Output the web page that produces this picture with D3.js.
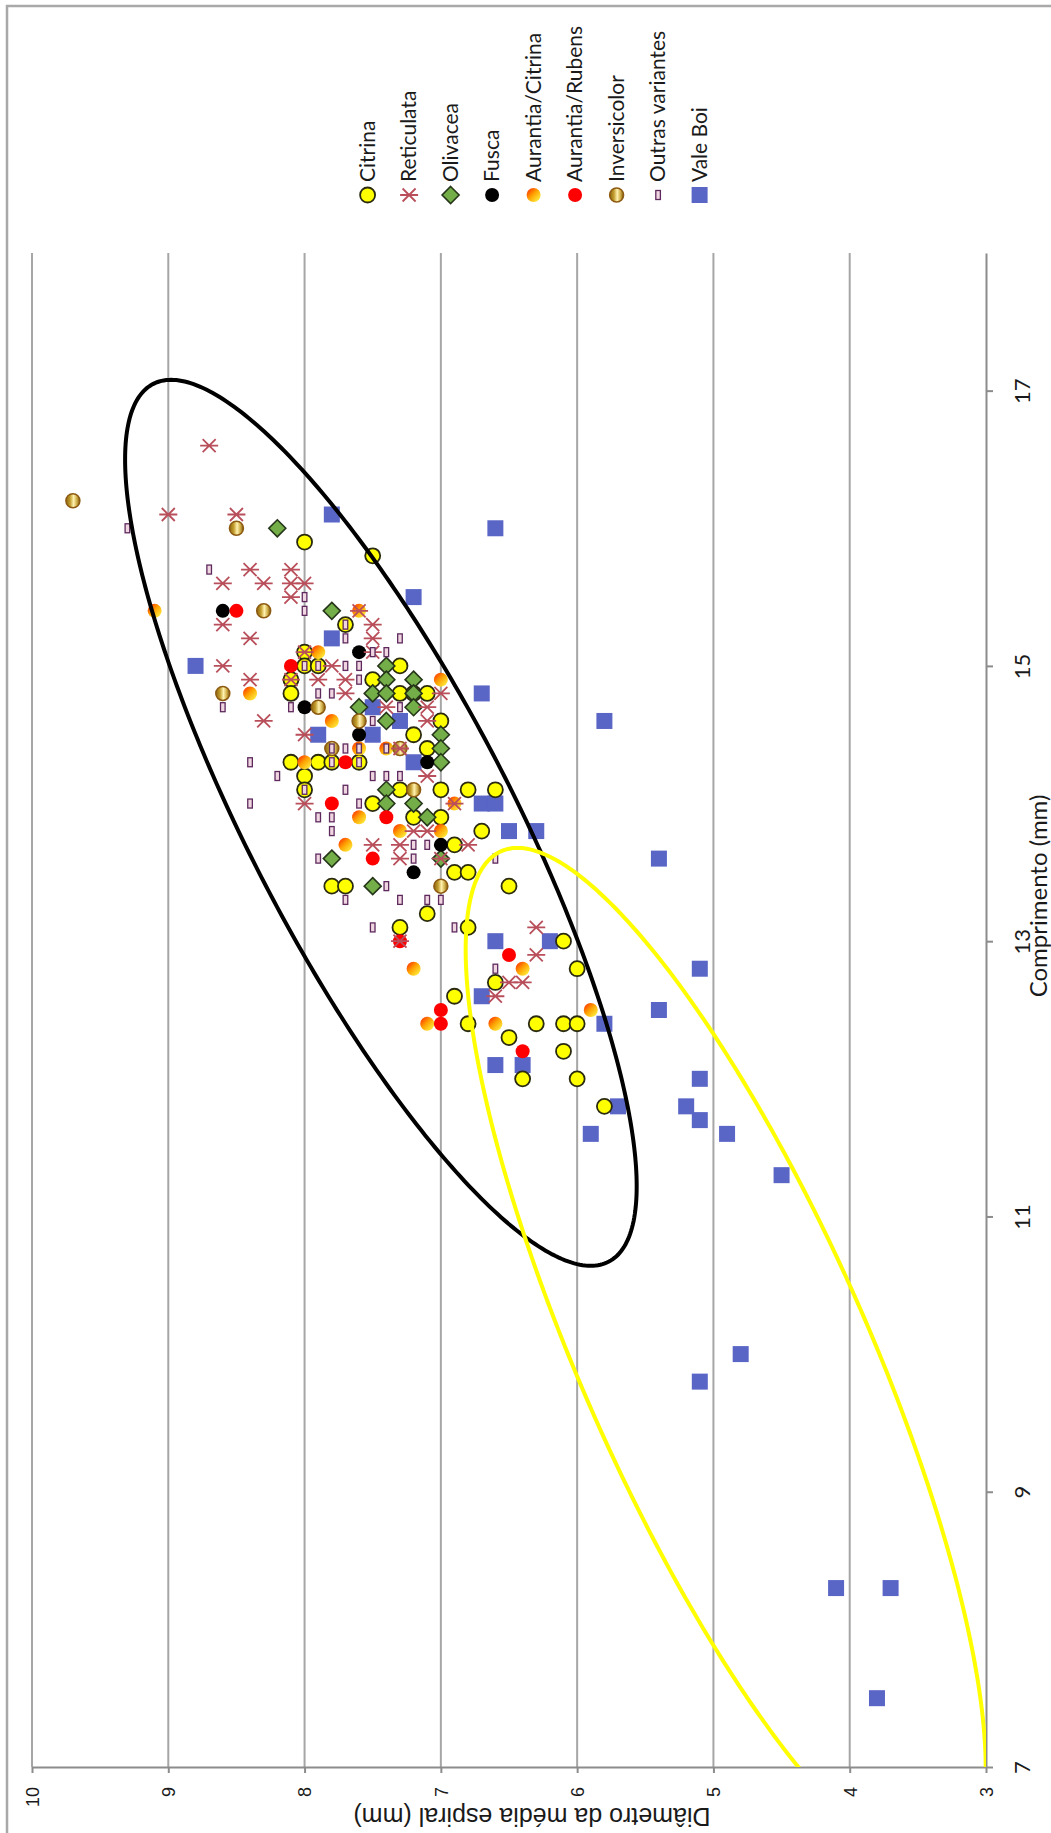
<!DOCTYPE html>
<html>
<head>
<meta charset="utf-8">
<script src="https://cdn.jsdelivr.net/npm/d3@7"></script>
<style>
  body { margin: 0; background: #fff; }
  svg { display: block; }
</style>
</head>
<body>
<svg id="chart" width="1051" height="1833"></svg>
<script>
// Axis ticks
const diamTicks = [10, 9, 8, 7, 6, 5, 4, 3];
const compTicks = [7, 9, 11, 13, 15, 17];

// Each point: [diâmetro da média espiral (mm), comprimento (mm)]
const citrina = [
  [8.0,15.9],[7.5,15.8],[7.7,15.3],[8.0,15.1],[8.0,15.0],[7.9,15.0],[7.3,15.0],
  [8.1,14.9],[7.5,14.9],[8.1,14.8],[7.3,14.8],[7.2,14.8],[7.1,14.8],[7.0,14.6],
  [7.2,14.5],[7.1,14.4],[8.1,14.3],[7.9,14.3],[7.8,14.3],[7.6,14.3],[8.0,14.2],
  [8.0,14.1],[7.3,14.1],[7.0,14.1],[6.8,14.1],[6.6,14.1],[7.5,14.0],[7.2,13.9],
  [7.0,13.9],[6.7,13.8],[6.9,13.7],[6.9,13.5],[6.8,13.5],[7.8,13.4],[7.7,13.4],
  [6.5,13.4],[7.1,13.2],[7.3,13.1],[6.8,13.1],[6.1,13.0],[6.0,12.8],[6.6,12.7],
  [6.9,12.6],[6.8,12.4],[6.3,12.4],[6.1,12.4],[6.0,12.4],[6.5,12.3],[6.1,12.2],
  [6.4,12.0],[6.0,12.0],[5.8,11.8]
];
const reticulata = [
  [8.7,16.6],[9.0,16.1],[8.5,16.1],[8.4,15.7],[8.1,15.7],[8.6,15.6],[8.3,15.6],
  [8.1,15.6],[8.0,15.6],[8.1,15.5],[7.6,15.4],[8.6,15.3],[7.5,15.3],[8.4,15.2],
  [7.5,15.2],[7.5,15.1],[8.0,15.1],[8.6,15.0],[7.8,15.0],[8.4,14.9],[8.1,14.9],
  [7.9,14.9],[7.7,14.9],[7.7,14.8],[7.0,14.8],[7.4,14.7],[7.1,14.7],[8.3,14.6],
  [7.1,14.6],[8.0,14.5],[7.3,14.4],[7.1,14.2],[8.0,14.0],[6.9,14.0],[7.2,13.8],
  [7.1,13.8],[7.5,13.7],[7.3,13.7],[6.8,13.7],[7.3,13.6],[7.0,13.6],[6.3,13.1],
  [7.3,13.0],[6.3,12.9],[6.5,12.7],[6.4,12.7],[6.6,12.6]
];
const olivacea = [
  [8.2,16.0],[7.8,15.4],[7.4,15.0],[7.4,14.9],[7.2,14.9],[7.5,14.8],[7.4,14.8],
  [7.2,14.8],[7.6,14.7],[7.2,14.7],[7.4,14.6],[7.0,14.5],[7.0,14.4],[7.0,14.3],
  [7.4,14.1],[7.4,14.0],[7.2,14.0],[7.1,13.9],[7.8,13.6],[7.0,13.6],[7.5,13.4]
];
const fusca = [
  [8.6,15.4],[7.6,15.1],[8.0,14.7],[7.6,14.5],[7.1,14.3],[7.0,13.7],[7.2,13.5]
];
const aurantiaCitrina = [
  [9.1,15.4],[7.6,15.4],[7.9,15.1],[7.0,14.9],[8.4,14.8],[7.8,14.6],[7.6,14.4],
  [7.4,14.4],[8.0,14.3],[6.9,14.0],[7.6,13.9],[7.3,13.8],[7.0,13.8],[7.7,13.7],
  [7.2,12.8],[6.4,12.8],[5.9,12.5],[7.1,12.4],[6.6,12.4]
];
const aurantiaRubens = [
  [8.5,15.4],[8.1,15.0],[7.7,14.3],[7.8,14.0],[7.4,13.9],[7.5,13.6],[7.3,13.0],
  [6.5,12.9],[7.0,12.5],[7.0,12.4],[6.4,12.2]
];
const inversicolor = [
  [9.7,16.2],[8.5,16.0],[8.3,15.4],[8.6,14.8],[7.9,14.7],[7.6,14.6],[7.8,14.4],
  [7.3,14.4],[7.2,14.1],[7.0,13.4]
];
const outrasVariantes = [
  [9.3,16.0],[8.7,15.7],[8.0,15.5],[8.0,15.4],[7.7,15.3],[7.7,15.2],[7.3,15.2],
  [7.5,15.1],[7.4,15.1],[8.0,15.0],[7.9,15.0],[7.7,15.0],[7.6,15.0],[7.6,14.9],
  [7.9,14.8],[7.8,14.8],[8.6,14.7],[8.1,14.7],[7.3,14.7],[7.5,14.6],[7.8,14.4],
  [7.7,14.4],[7.6,14.4],[7.4,14.4],[8.4,14.3],[7.8,14.3],[7.6,14.3],[8.2,14.2],
  [7.5,14.2],[7.4,14.2],[7.3,14.2],[8.0,14.1],[7.7,14.1],[8.4,14.0],[7.6,14.0],
  [7.9,13.9],[7.8,13.9],[7.8,13.8],[7.2,13.7],[7.1,13.7],[7.9,13.6],[7.2,13.6],
  [6.6,13.6],[7.4,13.4],[7.7,13.3],[7.3,13.3],[7.1,13.3],[7.0,13.3],[7.5,13.1],
  [6.9,13.1],[6.6,12.8]
];
const valeBoi = [
  [7.8,16.1],[6.6,16.0],[7.2,15.5],[7.8,15.2],[8.8,15.0],[6.7,14.8],[7.5,14.7],
  [5.8,14.6],[7.3,14.6],[7.9,14.5],[7.5,14.5],[7.2,14.3],[6.7,14.0],[6.6,14.0],
  [6.5,13.8],[6.3,13.8],[5.4,13.6],[6.6,13.0],[6.2,13.0],[5.1,12.8],[6.7,12.6],
  [5.4,12.5],[5.8,12.4],[6.6,12.1],[6.4,12.1],[5.1,12.0],[5.7,11.8],[5.2,11.8],
  [5.1,11.7],[5.9,11.6],[4.9,11.6],[4.5,11.3],[4.8,10.0],[5.1,9.8],[4.1,8.3],
  [3.7,8.3],[3.8,7.5]
];

// Group outlines, in mm: centre [diâmetro, comprimento], half axes, tilt in degrees
const groupOutlines = [
  { center: [7.44, 13.86], semiMajor: 3.60, semiMinor: 0.96, tilt: 62.3, color: "#000000", clip: false },
  { center: [4.91, 9.965], semiMajor: 4.04, semiMinor: 1.05, tilt: 65.9, color: "#ffff00", clip: true }
];

const svg = d3.select("#chart");
const plot = { left: 32, right: 986, top: 253, bottom: 1767 };
const x = d3.scaleLinear().domain([10, 3]).range([plot.left, plot.right]);
const y = d3.scaleLinear().domain([7, 18]).range([plot.bottom, plot.top]);

const defs = svg.append("defs");
defs.append("clipPath").attr("id", "plotClip")
  .append("rect")
  .attr("x", plot.left).attr("y", plot.top)
  .attr("width", plot.right - plot.left).attr("height", plot.bottom - plot.top);

const gAC = defs.append("linearGradient").attr("id", "gradAC")
  .attr("x1", 0.1).attr("y1", 0.1).attr("x2", 0.9).attr("y2", 0.9);
[[0, "#ff3a00"], [0.45, "#ffa200"], [1, "#ffee40"]].forEach(([o, c]) =>
  gAC.append("stop").attr("offset", o).attr("stop-color", c));

const gInv = defs.append("linearGradient").attr("id", "gradInv")
  .attr("x1", 0).attr("y1", 0).attr("x2", 1).attr("y2", 0);
[[0, "#8a6510"], [0.3, "#c29c2c"], [0.55, "#fff2b0"], [0.78, "#d0ad48"], [1, "#7a560a"]].forEach(([o, c]) =>
  gInv.append("stop").attr("offset", o).attr("stop-color", c));

// Outer frame
svg.append("rect")
  .attr("x", 7).attr("y", 6).attr("width", 1100).attr("height", 1900)
  .attr("fill", "none").attr("stroke", "#a9a9a9").attr("stroke-width", 2.5);

// Gridlines
svg.append("g").selectAll("line")
  .data(diamTicks.filter(d => d !== 3))
  .join("line")
  .attr("x1", d => x(d)).attr("x2", d => x(d))
  .attr("y1", plot.top).attr("y2", plot.bottom)
  .attr("stroke", "#a6a6a6").attr("stroke-width", 2);

// Bottom axis (diâmetro)
const axB = svg.append("g")
  .attr("transform", `translate(0,${plot.bottom})`)
  .call(d3.axisBottom(x).tickValues(diamTicks).tickSize(6).tickSizeOuter(0).tickFormat(d3.format("d")));
axB.selectAll("path, line").attr("stroke", "#8c8c8c").attr("stroke-width", 2);
axB.selectAll("text")
  .attr("transform", "rotate(-90)")
  .attr("x", -20).attr("y", 0).attr("dy", "0.35em")
  .style("text-anchor", "end")
  .style("font-family", "'Liberation Sans', Arial, sans-serif")
  .style("font-size", "18px").attr("fill", "#1a1a1a");

// Right axis (comprimento)
const axR = svg.append("g")
  .attr("transform", `translate(${plot.right},0)`)
  .call(d3.axisRight(y).tickValues(compTicks).tickSize(7).tickSizeOuter(0).tickFormat(d3.format("d")));
axR.selectAll("path, line").attr("stroke", "#8c8c8c").attr("stroke-width", 2);
axR.selectAll("text")
  .attr("transform", "rotate(-90)")
  .attr("x", 0).attr("y", 36).attr("dy", "0.35em")
  .style("text-anchor", "middle")
  .style("font-family", "Lato, 'Open Sans', sans-serif")
  .style("font-size", "22px").attr("fill", "#1a1a1a");

// Axis titles
svg.append("text")
  .attr("transform", "translate(532,1817) rotate(180)")
  .attr("text-anchor", "middle").attr("dy", "0.35em")
  .style("font-family", "'Liberation Sans', Arial, sans-serif")
  .style("font-size", "25px").attr("fill", "#1a1a1a")
  .text("Diâmetro da média espiral (mm)");
svg.append("text")
  .attr("transform", "translate(1039,896) rotate(-90)")
  .attr("text-anchor", "middle").attr("dy", "0.35em")
  .style("font-family", "Lato, 'Open Sans', sans-serif")
  .style("font-size", "24px").attr("fill", "#1a1a1a")
  .text("Comprimento (mm)");

// Marker painters
const markers = {
  citrina: (g) => g.append("circle").attr("r", 7.5).attr("fill", "#ffff00")
    .attr("stroke", "#2a2a10").attr("stroke-width", 1.8),
  reticulata: (g) => g.append("path")
    .attr("d", "M-6.5,-6.5L6.5,6.5M-6.5,6.5L6.5,-6.5M-9,0L9,0")
    .attr("stroke", "#b84f5b").attr("stroke-width", 1.8).attr("fill", "none"),
  olivacea: (g) => g.append("path").attr("d", "M0,-8.5L8.5,0L0,8.5L-8.5,0Z")
    .attr("fill", "#74ae48").attr("stroke", "#26361a").attr("stroke-width", 1.6),
  fusca: (g) => g.append("circle").attr("r", 7).attr("fill", "#000"),
  aurantiaCitrina: (g) => g.append("circle").attr("r", 7).attr("fill", "url(#gradAC)"),
  aurantiaRubens: (g) => g.append("circle").attr("r", 7).attr("fill", "#ff0000"),
  inversicolor: (g) => g.append("circle").attr("r", 7).attr("fill", "url(#gradInv)")
    .attr("stroke", "#8c5a12").attr("stroke-width", 1.5),
  outrasVariantes: (g) => g.append("rect").attr("x", -2.3).attr("y", -4.5)
    .attr("width", 4.6).attr("height", 9).attr("fill", "#f0d6e0")
    .attr("stroke", "#5e2a5e").attr("stroke-width", 1.3),
  valeBoi: (g) => g.append("rect").attr("x", -8).attr("y", -8)
    .attr("width", 16).attr("height", 16).attr("fill", "#5a66c6")
};

const series = [
  { key: "citrina", name: "Citrina", data: citrina },
  { key: "reticulata", name: "Reticulata", data: reticulata },
  { key: "olivacea", name: "Olivacea", data: olivacea },
  { key: "fusca", name: "Fusca", data: fusca },
  { key: "aurantiaCitrina", name: "Aurantia/Citrina", data: aurantiaCitrina },
  { key: "aurantiaRubens", name: "Aurantia/Rubens", data: aurantiaRubens },
  { key: "inversicolor", name: "Inversicolor", data: inversicolor },
  { key: "outrasVariantes", name: "Outras variantes", data: outrasVariantes },
  { key: "valeBoi", name: "Vale Boi", data: valeBoi }
];

// Painting order: squares underneath, small marks on top
const paintOrder = ["valeBoi", "citrina", "olivacea", "fusca", "aurantiaCitrina",
  "aurantiaRubens", "inversicolor", "reticulata", "outrasVariantes"];
const pts = svg.append("g");
paintOrder.forEach(k => {
  const s = series.find(v => v.key === k);
  pts.append("g").attr("class", k).selectAll("g")
    .data(s.data).join("g")
    .attr("transform", d => `translate(${x(d[0])},${y(d[1])})`)
    .each(function () { markers[k](d3.select(this)); });
});

// Group outlines
const line = d3.line().curve(d3.curveLinearClosed);
groupOutlines.forEach(o => {
  const th = o.tilt * Math.PI / 180;
  const ring = d3.range(0, 360, 1).map(deg => {
    const t = deg * Math.PI / 180;
    const u = o.semiMajor * Math.cos(t), v = o.semiMinor * Math.sin(t);
    const dx = u * Math.cos(th) - v * Math.sin(th);
    const dy = u * Math.sin(th) + v * Math.cos(th);
    return [x(o.center[0] - dx), y(o.center[1] - dy)];
  });
  const p = svg.append("path").attr("d", line(ring))
    .attr("fill", "none").attr("stroke", o.color).attr("stroke-width", 4);
  if (o.clip) p.attr("clip-path", "url(#plotClip)");
});

// Legend
const legend = svg.append("g");
series.forEach((s, i) => {
  const lx = 367.6 + i * 41.5, ly = 195;
  const g = legend.append("g").attr("transform", `translate(${lx},${ly})`);
  markers[s.key](g);
  g.append("text")
    .attr("transform", "rotate(-90)")
    .attr("x", 13).attr("y", 0).attr("dy", "0.35em")
    .style("text-anchor", "start")
    .style("font-family", "Lato, 'Open Sans', sans-serif")
    .style("font-size", "21px").attr("fill", "#1a1a1a")
    .text(s.name);
});
</script>
</body>
</html>
